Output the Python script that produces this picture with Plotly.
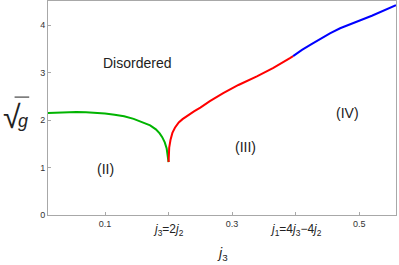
import plotly.graph_objects as go

# Phase boundary curves
green_x = [0.010, 0.025, 0.040, 0.055, 0.070, 0.085, 0.100, 0.115, 0.130, 0.145, 0.160, 0.171, 0.180, 0.186, 0.190, 0.194, 0.197, 0.199, 0.200]
green_y = [2.147, 2.160, 2.167, 2.170, 2.166, 2.157, 2.140, 2.115, 2.080, 2.025, 1.955, 1.890, 1.805, 1.720, 1.640, 1.530, 1.400, 1.260, 1.116]

red_x = [0.200, 0.2005, 0.201, 0.203, 0.206, 0.210, 0.216, 0.222, 0.230, 0.240, 0.250, 0.265, 0.286, 0.310, 0.339, 0.365, 0.391, 0.396]
red_y = [1.116, 1.300, 1.420, 1.580, 1.730, 1.840, 1.950, 2.020, 2.100, 2.185, 2.265, 2.400, 2.568, 2.740, 2.920, 3.100, 3.305, 3.347]

blue_x = [0.396, 0.410, 0.425, 0.440, 0.454, 0.470, 0.485, 0.502, 0.520, 0.540, 0.558]
blue_y = [3.347, 3.480, 3.600, 3.720, 3.830, 3.935, 4.020, 4.105, 4.200, 4.310, 4.420]

tick_vals = [0.1, 0.2, 0.3, 0.4, 0.5]
tick_text = ["0.1", "", "0.3", "", "0.5"]
y_ticks = [0, 1, 2, 3, 4]

fig = go.Figure()
fig.add_trace(go.Scatter(x=green_x, y=green_y, mode="lines", hoverinfo="skip",
                         line=dict(color="rgb(0,180,0)", width=2)))
fig.add_trace(go.Scatter(x=red_x, y=red_y, mode="lines", hoverinfo="skip",
                         line=dict(color="rgb(255,0,0)", width=2)))
fig.add_trace(go.Scatter(x=blue_x, y=blue_y, mode="lines", hoverinfo="skip",
                         line=dict(color="rgb(0,0,255)", width=2)))

axis_common = dict(showgrid=False, zeroline=False, showline=True, linecolor="#a8a8a8",
                   linewidth=1, mirror=True, ticks="inside", ticklen=3, tickcolor="#a8a8a8",
                   automargin=False,
                   tickfont=dict(family="Liberation Sans, Arial", size=9, color="#333333"))

fig.update_layout(
    width=399, height=265,
    margin=dict(l=48, r=3, t=1, b=50),
    paper_bgcolor="white", plot_bgcolor="white",
    showlegend=False,
    xaxis=dict(range=[0.0102, 0.558], tickmode="array", tickvals=tick_vals, ticktext=tick_text, **axis_common),
    yaxis=dict(range=[0, 4.51], tickmode="array", tickvals=y_ticks, ticktext=[str(v) for v in y_ticks], **axis_common),
)

font_main = dict(family="Liberation Sans, Arial", size=14, color="#222222")
font_lab = dict(family="Liberation Sans, Arial", size=12, color="#222222")

anns = [
    dict(x=0.150, y=3.2, text="Disordered", font=font_main),
    dict(x=0.1, y=0.97, text="(II)", font=font_main),
    dict(x=0.3205, y=1.43, text="(III)", font=font_main),
    dict(x=0.481, y=2.15, text="(IV)", font=font_main),
]
for a in anns:
    fig.add_annotation(xref="x", yref="y", showarrow=False, **a)

# custom x tick labels
fig.add_annotation(xref="x", yref="paper", x=0.2, y=-0.072, yanchor="middle", showarrow=False,
                   text="<i>j</i><sub>3</sub>=2<i>j</i><sub>2</sub>", font=font_lab)
fig.add_annotation(xref="x", yref="paper", x=0.4, y=-0.072, yanchor="middle", showarrow=False,
                   text="<i>j</i><sub>1</sub>=4<i>j</i><sub>3</sub>−4<i>j</i><sub>2</sub>", font=font_lab)
# axis titles
fig.add_annotation(xref="x", yref="paper", x=0.2855, y=-0.183, yanchor="middle", showarrow=False,
                   text="<i>j</i><sub>3</sub>", font=dict(family="Liberation Sans, Arial", size=14, color="#222222"))
fig.add_annotation(xref="paper", yref="paper", x=-0.136, y=0.46, xanchor="left", yanchor="middle",
                   showarrow=False, text="√", font=dict(family="Liberation Sans", size=32, color="#222222"))
fig.add_annotation(xref="paper", yref="paper", x=-0.072, y=0.44, xanchor="center", yanchor="middle",
                   showarrow=False, text="<i>g</i>", font=dict(family="Liberation Sans, Arial", size=18, color="#222222"))
fig.add_shape(type="line", xref="paper", yref="paper", x0=-0.096, x1=-0.054, y0=0.551, y1=0.551,
              line=dict(color="#222222", width=1))

fig.write_html("out.html", config={"displayModeBar": False},
               post_script="document.body.style.margin='0px';")
